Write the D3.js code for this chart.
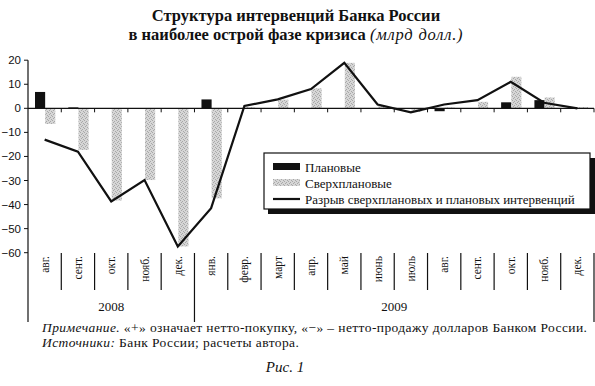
<!DOCTYPE html>
<html lang="ru">
<head>
<meta charset="UTF-8">
<title>Структура интервенций Банка России</title>
<script src="https://d3js.org/d3.v7.min.js"></script>
<style>
  body { margin: 0; background: #fff; }
  svg { display: block; }
  .serif { font-family: "Liberation Serif", "DejaVu Serif", serif; fill: #111; }
  .ytick { font-family: "Liberation Sans", Arial, sans-serif; font-size: 11.5px; fill: #111; }
</style>
</head>
<body>
<div id="chart"></div>
<script>
// months, Aug 2008 .. Dec 2009
const months = ["авг.", "сент.", "окт.", "нояб.", "дек.",
                "янв.", "февр.", "март", "апр.", "май", "июнь", "июль",
                "авг.", "сент.", "окт.", "нояб.", "дек."];
const years = [{ label: "2008", from: 0, to: 5 }, { label: "2009", from: 5, to: 17 }];
// плановые (black)
const planned = [6.8, 0.4, 0, 0, 0, 3.7, 0, 0, 0, 0, 0, 0, -1.2, 0, 2.5, 3.4, 0.3];
// сверхплановые (gray)
const extra = [-6.5, -17.3, -38.3, -29.8, -57.4, -37.4, 0.5, 3.6, 8.3, 18.9, 1.0, -1.5, 0.4, 2.7, 13.1, 4.5, 0.5];
// разрыв
const gap = [-13.0, -18.0, -38.7, -29.8, -57.4, -41.5, 1.0, 3.7, 8.0, 18.9, 1.6, -1.7, 1.6, 3.4, 11.0, 2.3, 0];
const yTicks = [20, 10, 0, -10, -20, -30, -40, -50, -60];
const legendItems = ["Плановые", "Сверхплановые", "Разрыв сверхплановых и  плановых интервенций"];

const W = 595, H = 386;
const svg = d3.select("#chart").append("svg").attr("width", W).attr("height", H);

// gray speckle pattern
const pat = svg.append("defs").append("pattern")
  .attr("id", "speckle").attr("width", 4).attr("height", 4)
  .attr("patternUnits", "userSpaceOnUse");
pat.append("rect").attr("width", 4).attr("height", 4).attr("fill", "#d6d6d6");
[[0, 0], [2, 1], [1, 2], [3, 3]].forEach(p => {
  pat.append("rect").attr("x", p[0]).attr("y", p[1]).attr("width", 1).attr("height", 1).attr("fill", "#a8a8a8");
});

// title
const title = svg.append("text").attr("class", "serif").attr("text-anchor", "middle")
  .style("font-size", "16.5px").style("font-weight", "bold");
title.append("tspan").attr("x", 296).attr("y", 21).text("Структура интервенций Банка России");
const t2 = title.append("tspan").attr("x", 296).attr("y", 40);
t2.append("tspan").text("в наиболее острой фазе кризиса ");
t2.append("tspan").style("font-weight", "normal").style("font-style", "italic")
  .style("letter-spacing", "0.8px").text("(млрд долл.)");

const x0 = 28, x1 = 594;
const x = d3.scaleBand().domain(d3.range(months.length)).range([x0, x1]).padding(0);
const bw = x.bandwidth();
const xs = d3.scaleBand().domain(["p", "e"]).range([7, bw - 6]).padding(0);
const y = d3.scaleLinear().domain([-60, 20]).range([252.7, 60.2]);

// y axis
svg.append("line").attr("x1", x0).attr("x2", x0).attr("y1", y(20)).attr("y2", 322)
  .attr("stroke", "#111").attr("stroke-width", 1.2);
svg.selectAll(".yt").data(yTicks).enter().append("line")
  .attr("x1", x0 - 4).attr("x2", x0).attr("y1", d => y(d)).attr("y2", d => y(d))
  .attr("stroke", "#111");
svg.selectAll(".ytl").data(yTicks).enter().append("text")
  .attr("class", "ytick").attr("text-anchor", "end")
  .attr("x", x0 - 7).attr("y", d => y(d)).attr("dy", "0.35em")
  .text(d => d < 0 ? "\u2212" + Math.abs(d) : d);

// bars
svg.selectAll(".bp").data(planned).enter().append("rect")
  .attr("x", (d, i) => x(i) + xs("p"))
  .attr("width", xs.bandwidth())
  .attr("y", d => y(Math.max(0, d)))
  .attr("height", d => Math.abs(y(d) - y(0)))
  .attr("fill", "#111");
svg.selectAll(".be").data(extra).enter().append("rect")
  .attr("x", (d, i) => x(i) + xs("e"))
  .attr("width", xs.bandwidth())
  .attr("y", d => y(Math.max(0, d)))
  .attr("height", d => Math.abs(y(d) - y(0)))
  .attr("fill", "url(#speckle)");

// zero line + ticks
svg.append("line").attr("x1", x0).attr("x2", x1).attr("y1", y(0)).attr("y2", y(0))
  .attr("stroke", "#111").attr("stroke-width", 1.2);
svg.selectAll(".zt").data(d3.range(1, months.length + 1)).enter().append("line")
  .attr("x1", i => x0 + i * bw).attr("x2", i => x0 + i * bw)
  .attr("y1", y(0)).attr("y2", y(0) + 4).attr("stroke", "#111");

// gap line
const line = d3.line().x((d, i) => x(i) + bw / 2).y(d => y(d));
svg.append("path").datum(gap).attr("d", line)
  .attr("fill", "none").attr("stroke", "#111").attr("stroke-width", 2.2)
  .attr("stroke-linejoin", "miter");

// category separators and labels
const yearBounds = new Set(years.map(d => d.from).concat(years.map(d => d.to)));
svg.selectAll(".sep").data(d3.range(1, months.length + 1)).enter().append("line")
  .attr("x1", i => x0 + i * bw).attr("x2", i => x0 + i * bw)
  .attr("y1", 253).attr("y2", i => yearBounds.has(i) ? 322 : 290)
  .attr("stroke", "#111").attr("stroke-width", 1.2);
svg.selectAll(".ml").data(months).enter().append("text")
  .attr("class", "serif").style("font-size", "11.5px").attr("text-anchor", "end")
  .attr("transform", (d, i) => `translate(${x(i) + bw / 2 + 4},256) rotate(-90)`)
  .text(d => d);
svg.selectAll(".yl").data(years).enter().append("text")
  .attr("class", "serif").style("font-size", "13px").attr("text-anchor", "middle")
  .attr("x", d => (x0 + d.from * bw + x0 + d.to * bw) / 2).attr("y", 311)
  .text(d => d.label);

// legend
const lg = svg.append("g").attr("transform", "translate(264,153)");
lg.append("rect").attr("x", 4).attr("y", 5).attr("width", 327).attr("height", 56).attr("fill", "#111");
lg.append("rect").attr("x", 0).attr("y", 0).attr("width", 326).attr("height", 56)
  .attr("fill", "#fff").attr("stroke", "#111").attr("stroke-width", 1.2);
legendItems.forEach((t, i) => {
  const yy = 14 + i * 16;
  if (i === 0) lg.append("rect").attr("x", 9).attr("y", yy - 4).attr("width", 27).attr("height", 7).attr("fill", "#111");
  if (i === 1) lg.append("rect").attr("x", 9).attr("y", yy - 4).attr("width", 27).attr("height", 7).attr("fill", "url(#speckle)");
  if (i === 2) lg.append("line").attr("x1", 9).attr("x2", 36).attr("y1", yy).attr("y2", yy).attr("stroke", "#111").attr("stroke-width", 2.2);
  lg.append("text").attr("class", "serif").style("font-size", "13px")
    .attr("x", 41).attr("y", yy).attr("dy", "0.35em").text(t);
});

// notes
const n1 = svg.append("text").attr("class", "serif").style("font-size", "13.5px")
  .style("letter-spacing", "0.4px").attr("x", 42).attr("y", 332);
n1.append("tspan").style("font-style", "italic").text("Примечание.");
n1.append("tspan").text(" «+» означает нетто-покупку, «\u2212» \u2013 нетто-продажу долларов  Банком России.");
const n2 = svg.append("text").attr("class", "serif").style("font-size", "13.5px")
  .style("letter-spacing", "0.4px").attr("x", 42).attr("y", 347);
n2.append("tspan").style("font-style", "italic").text("Источники:");
n2.append("tspan").text(" Банк России; расчеты автора.");
svg.append("text").attr("class", "serif").style("font-size", "15px").style("font-style", "italic")
  .attr("text-anchor", "middle").attr("x", 285).attr("y", 372).text("Рис. 1");
</script>
</body>
</html>
